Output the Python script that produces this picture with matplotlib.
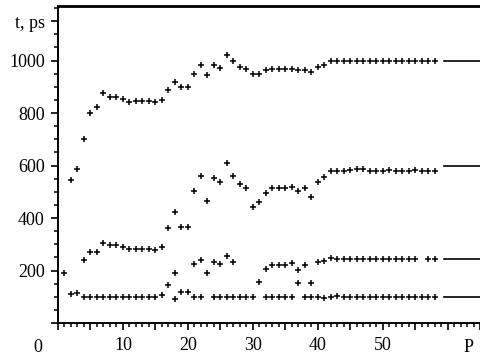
import matplotlib
matplotlib.use('Agg')
import matplotlib.pyplot as plt
import numpy as np
from matplotlib.ticker import MultipleLocator, FixedLocator, FixedFormatter

nan = np.nan

# processor count P = 1..58
p = np.arange(1, 59)

# top series (tends to 1000 ps)
t_a = [nan, 545, 587, 700, 800, 822, 876, 860, 860, 855,
       842, 845, 845, 845, 842, 850, 888, 918, 900, 900,
       948, 983, 945, 985, 972, 1020, 998, 975, 967, 948,
       948, 963, 967, 967, 967, 967, 963, 963, 955, 975,
       983, 998, 1000, 1000, 1000, 1000, 1000, 1000, 1000, 1000,
       1000, 1000, 1000, 1000, 1000, 1000, 1000, 1000]

# second series (tends to 600 ps)
t_b = [nan] * 16 + [362, 423, 366, 366, 503, 560, 465, 552,
       537, 610, 560, 530, 514, 442, 461, 495, 514, 514,
       514, 518, 503, 514, 480, 537, 556, 579, 580, 580,
       582, 588, 586, 580, 580, 580, 582, 580, 580, 580,
       582, 580, 580, 580]

# third series (tends to 245 ps)
t_c = [190, nan, nan, 240, 272, 272, 306, 297, 297, 290,
       283, 283, 283, 283, 280, 290, 145, 190, 118, 118,
       225, 240, 190, 232, 225, 255, 232, nan, nan, nan,
       156, 206, 221, 221, 221, 229, 202, 221, 152, 232,
       236, 248, 245, 245, 245, 245, 245, 245, 245, 245,
       245, 245, 245, 245, 245, nan, 245, 245]

# bottom series (tends to 100 ps)
t_d = [nan, 110, 115, 99, 99, 99, 99, 99, 99, 99,
       99, 99, 99, 99, 99, 107, nan, 93, nan, nan,
       99, 99, nan, 99, 99, 99, 99, 99, 99, 99,
       nan, 99, 99, 99, 99, 99, 152, 99, 99, 99,
       95, 99, 101, 99, 99, 99, 99, 99, 99, 99,
       99, 99, 99, 99, 99, 99, 99, 99]

# asymptotic levels drawn at the right edge
limits = [1000, 600, 245, 100]

y_labels = ['', '200', '400', '600', '800', '1000', 't, ps']

plt.rcParams['font.family'] = ['Liberation Serif', 'DejaVu Serif']

fig = plt.figure(figsize=(4.8, 3.56), dpi=100)
ax = fig.add_axes([58 / 480, 1 - 323 / 356, 1 - 58 / 480, 317 / 356])

for series in (t_a, t_b, t_c, t_d):
    ax.plot(p, series, linestyle='none', marker='+', ms=4, mew=1.1, color='black')

for lv in limits:
    ax.plot([59.5, 66], [lv, lv], color='black', lw=1.2, clip_on=False)

ax.set_xlim(0, 65)
ax.set_ylim(0, 1208)

ax.spines['right'].set_visible(False)
ax.spines['top'].set_linewidth(2)
ax.spines['left'].set_linewidth(1.4)
ax.spines['bottom'].set_linewidth(1.4)

ax.xaxis.set_major_locator(FixedLocator([0, 5, 10, 15, 20, 25, 30, 35, 40, 45, 50, 55, 60, 65]))
ax.xaxis.set_major_formatter(FixedFormatter(['', '', '10', '', '20', '', '30', '', '40', '', '50', '', '', '']))
ax.xaxis.set_minor_locator(MultipleLocator(1))
ax.yaxis.set_major_locator(FixedLocator([0, 200, 400, 600, 800, 1000, 1150]))
ax.yaxis.set_major_formatter(FixedFormatter(y_labels))
ax.yaxis.set_minor_locator(MultipleLocator(50))

ax.tick_params(axis='both', which='major', direction='out', length=5, width=1.2,
               labelsize=13, colors='black')
ax.tick_params(axis='both', which='minor', direction='out', length=3.2, width=1.1)
ax.tick_params(axis='x', which='major', pad=5)
ax.tick_params(axis='y', which='major', pad=4.5)

tr = ax.get_xaxis_transform()
ax.text(-3.1, -0.077, '0', transform=tr, ha='center', va='center', fontsize=13, clip_on=False)
ax.text(63.3, -0.077, 'P', transform=tr, ha='center', va='center', fontsize=13, clip_on=False)

fig.savefig('out.png', dpi=100)
